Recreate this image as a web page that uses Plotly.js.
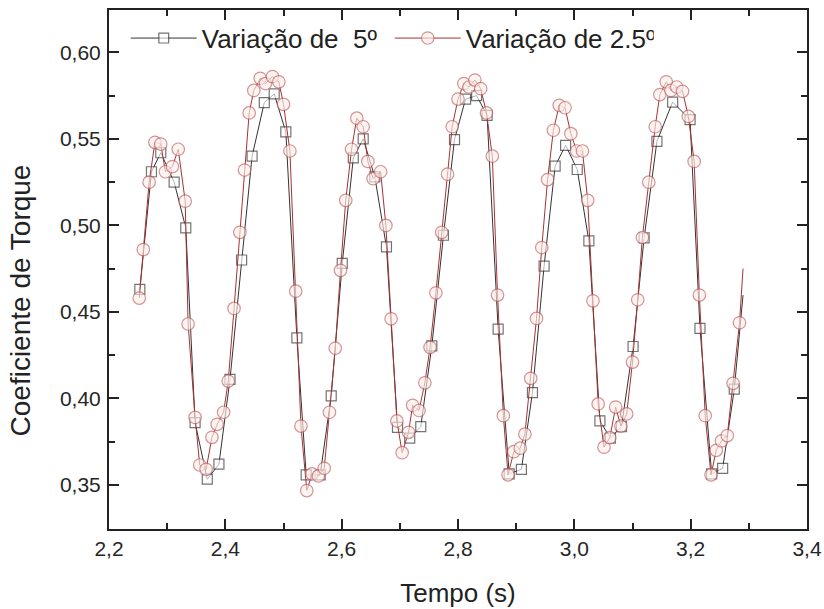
<!DOCTYPE html>
<html>
<head>
<meta charset="utf-8">
<script src="https://cdn.plot.ly/plotly-3.0.1.min.js"></script>
<style>html,body{margin:0;padding:0;background:#fff;}#chart{width:824px;height:609px;}</style>
</head>
<body>
<div id="chart"></div>
<script>
// Series "Variação de 5º" (squares)
var t5 = [2.253,2.273,2.289,2.312,2.332,2.348,2.369,2.389,2.408,2.428,2.446,2.467,2.484,2.504,2.523,2.539,2.563,2.582,2.601,2.620,2.637,2.657,2.677,2.696,2.717,2.736,2.755,2.775,2.794,2.813,2.832,2.850,2.869,2.888,2.909,2.928,2.948,2.967,2.985,3.005,3.025,3.044,3.062,3.081,3.101,3.120,3.142,3.169,3.199,3.216,3.236,3.255,3.275,3.290];
var c5 = [0.463,0.531,0.542,0.525,0.4986,0.386,0.3533,0.362,0.411,0.480,0.540,0.571,0.576,0.554,0.435,0.3558,0.3558,0.4014,0.478,0.539,0.550,0.528,0.4876,0.3833,0.377,0.3837,0.4303,0.4943,0.5496,0.573,0.575,0.5636,0.440,0.3564,0.359,0.4033,0.4765,0.5343,0.5463,0.5323,0.491,0.387,0.377,0.3837,0.430,0.4928,0.5486,0.5713,0.5611,0.4405,0.3564,0.3596,0.4053,0.4597];

// Series "Variação de 2.5º" (circles)
var t25 = [2.252,2.259,2.269,2.279,2.289,2.297,2.309,2.319,2.331,2.336,2.348,2.356,2.367,2.377,2.386,2.397,2.405,2.415,2.425,2.433,2.441,2.449,2.460,2.469,2.481,2.492,2.500,2.511,2.521,2.530,2.540,2.549,2.560,2.570,2.579,2.589,2.598,2.607,2.617,2.626,2.637,2.645,2.654,2.667,2.676,2.685,2.695,2.704,2.715,2.722,2.733,2.743,2.752,2.762,2.772,2.782,2.790,2.800,2.810,2.819,2.829,2.839,2.849,2.859,2.868,2.878,2.886,2.896,2.907,2.915,2.925,2.935,2.944,2.954,2.964,2.974,2.984,2.994,3.004,3.014,3.023,3.032,3.041,3.051,3.061,3.071,3.080,3.090,3.100,3.109,3.117,3.128,3.139,3.147,3.158,3.166,3.176,3.186,3.196,3.206,3.215,3.225,3.235,3.244,3.253,3.263,3.273,3.284,3.290];
var c25 = [0.458,0.486,0.525,0.548,0.547,0.531,0.534,0.544,0.514,0.443,0.389,0.3615,0.359,0.3775,0.385,0.392,0.410,0.452,0.496,0.532,0.565,0.578,0.585,0.582,0.586,0.583,0.570,0.543,0.462,0.384,0.3467,0.3564,0.3552,0.3596,0.392,0.429,0.474,0.5145,0.544,0.562,0.557,0.537,0.527,0.531,0.500,0.446,0.387,0.3686,0.3804,0.396,0.393,0.409,0.4295,0.461,0.496,0.5296,0.557,0.573,0.582,0.580,0.584,0.579,0.565,0.540,0.4597,0.390,0.3558,0.3692,0.3712,0.3793,0.4116,0.4462,0.4872,0.5265,0.555,0.5694,0.568,0.553,0.543,0.543,0.5145,0.4564,0.3968,0.3718,0.3773,0.395,0.384,0.391,0.421,0.457,0.493,0.525,0.557,0.5756,0.583,0.578,0.580,0.5775,0.563,0.537,0.4597,0.390,0.3558,0.370,0.3754,0.3785,0.4087,0.4437,0.475];

var names = ['Variação de\u00a0 5º', 'Variação de 2.5º'];
var xTitle = 'Tempo (s)';
var yTitle = 'Coeficiente de Torque';

function sizes(n, s){ var a=[]; for(var i=0;i<n;i++) a.push(i===n-1?0:s); return a; }

var traces = [
  {x:t5, y:c5, name:names[0], type:'scatter', mode:'lines+markers',
   line:{color:'#333333', width:1},
   marker:{symbol:'square', size:sizes(t5.length,10), color:'rgba(255,255,255,0.9)', line:{color:'#3a3a3a', width:1.2}}},
  {x:t25, y:c25, name:names[1], type:'scatter', mode:'lines+markers',
   line:{color:'#a83232', width:1},
   marker:{symbol:'circle', size:sizes(t25.length,12.5), color:'rgba(253,238,235,0.9)', line:{color:'#c06868', width:1.2}}}
];

var FF = 'Liberation Sans, Arial, sans-serif';
var tickFont = {family:FF, size:21, color:'#262626'};
var layout = {
  width:824, height:609,
  margin:{l:109, r:17, t:10, b:80},
  paper_bgcolor:'#fff', plot_bgcolor:'#fff',
  separators:',.',
  showlegend:true,
  legend:{orientation:'h', x:0.024, y:0.991, xanchor:'left', yanchor:'top',
          font:{family:FF, size:26, color:'#222'},
          bgcolor:'rgba(0,0,0,0)', itemwidth:66, entrywidth:183, traceorder:'normal'},
  xaxis:{range:[2.2,3.4], dtick:0.2, tick0:2.2, tickformat:'.1f',
         ticks:'inside', ticklen:10, tickwidth:2, tickcolor:'#222',
         showline:true, linewidth:2, linecolor:'#222', mirror:'allticks',
         showgrid:false, zeroline:false, tickfont:tickFont,
         minor:{dtick:0.1, tick0:2.2, ticks:'inside', ticklen:6, tickwidth:2, tickcolor:'#222', showgrid:false},
         title:{text:xTitle, font:{family:FF, size:26, color:'#222'}, standoff:25}},
  yaxis:{range:[0.3245,0.6245], dtick:0.05, tick0:0.35, tickformat:'.2f',
         ticks:'inside', ticklen:10, tickwidth:2, tickcolor:'#222',
         showline:true, linewidth:2, linecolor:'#222', mirror:'allticks',
         showgrid:false, zeroline:false, tickfont:tickFont, ticklabelstandoff:2,
         minor:{dtick:0.025, tick0:0.35, ticks:'inside', ticklen:6, tickwidth:2, tickcolor:'#222', showgrid:false}},
  annotations:[{text:yTitle, textangle:-90, xref:'paper', yref:'paper', x:-0.127, y:0.441,
                xanchor:'center', yanchor:'middle', showarrow:false,
                font:{family:FF, size:28, color:'#222'}}]
};

Plotly.newPlot('chart', traces, layout, {staticPlot:true, displayModeBar:false});
</script>
</body>
</html>
